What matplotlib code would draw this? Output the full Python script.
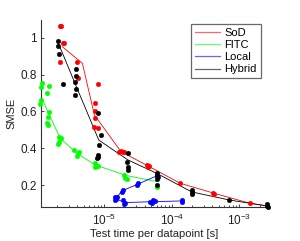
import matplotlib
matplotlib.use("Agg")
import matplotlib.pyplot as plt
from matplotlib.ticker import LogLocator, NullFormatter

plt.rcParams['font.family'] = ['Liberation Sans', 'DejaVu Sans']

# ---------------- data ----------------
sod_pts_x = [2.24e-6, 2.28e-6, 2.24e-6, 2.50e-6, 2.58e-6, 4.03e-6, 4.17e-6, 8.24e-6,
             7.36e-6, 7.36e-6, 7.36e-6, 7.19e-6, 8.24e-6, 1.68e-5, 1.76e-5, 1.89e-5,
             1.97e-5, 4.27e-5, 4.41e-5, 4.67e-5, 1.33e-4, 4.11e-4, 4.26e-4, 1.44e-3]
sod_pts_y = [1.062, 1.065, 0.870, 0.970, 0.973, 0.870, 0.783, 0.747,
             0.648, 0.603, 0.565, 0.518, 0.509, 0.379, 0.386, 0.382,
             0.379, 0.310, 0.301, 0.305, 0.211, 0.160, 0.153, 0.102]
sod_line_x = [2.42e-6, 4.78e-6, 7.19e-6, 1.78e-5, 4.45e-5, 1.33e-4, 4.18e-4, 1.44e-3, 2.55e-3]
sod_line_y = [0.951, 0.861, 0.581, 0.382, 0.305, 0.211, 0.157, 0.102, 0.088]

fitc_pts_x = [1.20e-6, 1.18e-6, 1.16e-6, 1.135e-6, 1.55e-6, 1.43e-6, 1.54e-6, 1.47e-6,
              1.43e-6, 1.47e-6, 2.19e-6, 2.32e-6, 2.19e-6, 2.11e-6, 3.61e-6, 4.28e-6,
              4.06e-6, 3.95e-6, 7.36e-6, 8.1e-6, 7.7e-6, 7.24e-6, 1.97e-5, 2.04e-5,
              2.16e-5, 6.0e-5]
fitc_pts_y = [0.756, 0.731, 0.662, 0.641, 0.738, 0.702, 0.599, 0.569,
              0.539, 0.527, 0.463, 0.455, 0.436, 0.421, 0.389, 0.382,
              0.375, 0.357, 0.322, 0.305, 0.302, 0.297, 0.256, 0.240,
              0.233, 0.193]
fitc_line_x = [1.20e-6, 2.24e-6, 3.95e-6, 7.45e-6, 2.12e-5, 6.0e-5]
fitc_line_y = [0.672, 0.455, 0.373, 0.310, 0.253, 0.220]

local_pts_x = [1.45e-5, 1.50e-5, 1.45e-5, 1.54e-5, 1.82e-5, 1.89e-5, 1.93e-5, 2.04e-5,
               1.99e-5, 3.21e-5, 3.10e-5, 4.78e-5, 5.06e-5, 5.66e-5, 5.35e-5, 6.0e-5,
               6.2e-5, 1.41e-4, 1.44e-4]
local_pts_y = [0.138, 0.126, 0.120, 0.135, 0.165, 0.175, 0.120, 0.106,
               0.099, 0.211, 0.202, 0.111, 0.106, 0.115, 0.120, 0.256,
               0.247, 0.120, 0.111]
local_line_x = [1.42e-4, 5.2e-5, 2.0e-5, 1.48e-5, 1.85e-5, 3.15e-5, 6.1e-5]
local_line_y = [0.115, 0.111, 0.106, 0.128, 0.170, 0.206, 0.252]

hyb_pts_x = [2.11e-6, 2.11e-6, 2.16e-6, 2.44e-6, 3.86e-6, 3.86e-6, 3.73e-6, 3.86e-6,
             3.73e-6, 8.24e-6, 8.93e-6, 8.44e-6, 8.24e-6, 8.1e-6, 7.93e-6, 2.28e-5,
             2.21e-5, 2.28e-5, 2.22e-5, 6.0e-5, 6.15e-5, 6.1e-5, 6.0e-5, 1.97e-4,
             1.97e-4, 1.97e-4, 7.10e-4, 2.53e-3, 2.67e-3, 2.53e-3]
hyb_pts_y = [0.980, 0.955, 0.914, 0.747, 0.833, 0.790, 0.762, 0.721,
             0.689, 0.590, 0.474, 0.418, 0.364, 0.355, 0.346, 0.373,
             0.324, 0.301, 0.283, 0.269, 0.250, 0.234, 0.202, 0.175,
             0.164, 0.153, 0.120, 0.096, 0.081, 0.088]
hyb_line_x = [2.11e-6, 3.86e-6, 8.35e-6, 2.26e-5, 6.05e-5, 1.97e-4, 7.1e-4, 2.55e-3]
hyb_line_y = [0.970, 0.738, 0.445, 0.337, 0.264, 0.164, 0.120, 0.088]

labels = ["SoD", "FITC", "Local", "Hybrid"]
colors = ["#ff0000", "#00ff00", "#0000ff", "#000000"]

# ---------------- plot ----------------
fig = plt.figure(figsize=(3.0, 2.41), dpi=100)
ax = fig.add_axes([0.137, 0.141, 0.756, 0.776])

series = [
    (sod_pts_x, sod_pts_y, sod_line_x, sod_line_y),
    (fitc_pts_x, fitc_pts_y, fitc_line_x, fitc_line_y),
    (local_pts_x, local_pts_y, local_line_x, local_line_y),
    (hyb_pts_x, hyb_pts_y, hyb_line_x, hyb_line_y),
]
handles = []
for (px, py, lx, ly), lab, c in zip(series, labels, colors):
    h, = ax.plot(lx, ly, '-', color=c, lw=0.6, label=lab, zorder=2)
    ax.plot(px, py, 'o', color=c, ms=3.3, mec=c, mew=0.3, ls='none', zorder=3,
            clip_on=False)
    handles.append(h)

ax.set_xscale('log')
ax.set_xlim(1.173e-6, 2.636e-3)
ax.set_ylim(0.082, 1.096)
ax.set_yticks([0.2, 0.4, 0.6, 0.8, 1.0])
ax.set_yticklabels(["0.2", "0.4", "0.6", "0.8", "1"])
ax.xaxis.set_major_locator(LogLocator(base=10, numticks=10))
ax.xaxis.set_minor_locator(LogLocator(base=10, subs=range(2, 10), numticks=20))
ax.xaxis.set_minor_formatter(NullFormatter())

ax.spines['top'].set_visible(False)
ax.spines['right'].set_visible(False)
for s in ['left', 'bottom']:
    ax.spines[s].set_linewidth(0.8)
    ax.spines[s].set_color('#333333')
ax.tick_params(which='major', direction='in', length=2.5, width=0.6,
               labelsize=8.5, colors='#222222', pad=3)
ax.tick_params(which='minor', direction='in', length=1.5, width=0.5)
ax.tick_params(axis='x', which='major', pad=4)

ax.set_xlabel("Test time per datapoint [s]", fontsize=8, labelpad=1, color='#222222')
ax.set_ylabel("SMSE", fontsize=8, labelpad=3, color='#222222')

leg = ax.legend(handles=handles, labels=labels, loc='upper right',
                bbox_to_anchor=(0.968, 0.979), fontsize=8, frameon=True,
                fancybox=False, edgecolor='#444444', handlelength=2.3,
                handletextpad=0.35, borderpad=0.35, labelspacing=0.2,
                borderaxespad=0.0)
leg.get_frame().set_linewidth(0.9)
for ln in leg.get_lines():
    ln.set_linewidth(0.9)
    ln.set_alpha(0.6)

fig.savefig("out.png", dpi=100)
